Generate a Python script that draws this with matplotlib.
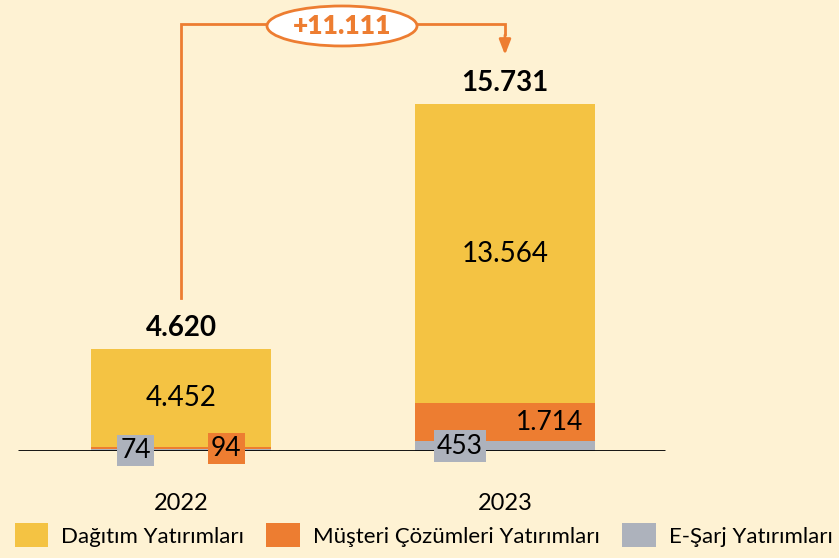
import numpy as np
import matplotlib.pyplot as plt
from matplotlib.patches import Ellipse

plt.rcParams['font.family'] = ['Lato', 'DejaVu Sans']

# data
years = ['2022', '2023']
esarj = [74, 453]
musteri = [94, 1714]
dagitim = [4452, 13564]
series_names = ['Dağıtım Yatırımları', 'Müşteri Çözümleri Yatırımları', 'E-Şarj Yatırımları']

def tr(v):
    return f'{v:,}'.replace(',', '.')

bg = '#FEF2D3'
c_yel = '#F4C343'
c_org = '#ED7D31'
c_gry = '#ADB2BC'

esarj = np.array(esarj)
musteri = np.array(musteri)
dagitim = np.array(dagitim)
totals = esarj + musteri + dagitim
x = np.arange(len(years))
w = 0.556

fig = plt.figure(figsize=(8.39, 5.58), dpi=100, facecolor=bg)
ax = fig.add_axes([0, 107 / 558, 1, 451 / 558])
ax.set_facecolor(bg)
ax.set_xlim(-181 / 324, 658 / 324)
ax.set_ylim(0, 451 * totals[1] / 347)
for s in ax.spines.values():
    s.set_visible(False)
ax.set_yticks([])

b1 = ax.bar(x, esarj, w, color=c_gry, zorder=2)
b2 = ax.bar(x, musteri, w, bottom=esarj, color=c_org, zorder=2)
b3 = ax.bar(x, dagitim, w, bottom=esarj + musteri, color=c_yel, zorder=2)

# baseline
ax.plot([-0.503, 1.494], [0, 0], color='black', lw=2, zorder=3, solid_capstyle='butt')

ax.set_xticks(x)
ax.set_xticklabels(years, fontsize=17)
ax.tick_params(axis='x', length=0, pad=30)

dx = 0.139
# small segment labels
ax.text(x[0] - dx, esarj[0] / 2, tr(esarj[0]), ha='center', va='center', fontsize=19, zorder=4,
        bbox=dict(boxstyle='square,pad=0.12', fc=c_gry, ec='none'))
ax.text(x[0] + dx, esarj[0] + musteri[0] / 2, tr(musteri[0]), ha='center', va='center', fontsize=19, zorder=4,
        bbox=dict(boxstyle='square,pad=0.12', fc=c_org, ec='none'))
ax.text(x[1] - dx, esarj[1] / 2, tr(esarj[1]), ha='center', va='center', fontsize=19, zorder=4,
        bbox=dict(boxstyle='square,pad=0.12', fc=c_gry, ec='none'))
ax.text(x[1] + dx, esarj[1] + musteri[1] / 2, tr(musteri[1]), ha='center', va='center', fontsize=19, zorder=4)

for i in x:
    ax.text(i, esarj[i] + musteri[i] + dagitim[i] / 2, tr(dagitim[i]), ha='center', va='center',
            fontsize=20, zorder=4)
    ax.annotate(tr(totals[i]), (i, totals[i]), xytext=(0, 15), textcoords='offset points',
                ha='center', va='center', fontsize=20, fontweight='bold')

# difference arrow
diff = totals[1] - totals[0]
ytop = ax.get_ylim()[1] * (427 / 451)
ax.plot([x[0], x[0], x[1], x[1]], [totals[0] + 2300, ytop, ytop, ytop - 450],
        color=c_org, lw=2, zorder=3, solid_joinstyle='miter')
ax.annotate('', xy=(x[1], ytop - 1400), xytext=(x[1], ytop - 500),
            arrowprops=dict(arrowstyle='-|>,head_length=0.9,head_width=0.35', color=c_org, lw=2,
                            shrinkA=0, shrinkB=0))
xm = (342 - 181) / 324
ax.add_patch(Ellipse((xm, ytop - 90), 150 / 324, 40 * 45.33, fc='white', ec=c_org, lw=2, zorder=4))
ax.text(xm, ytop - 90, '+' + tr(diff), ha='center', va='center', fontsize=19, fontweight='heavy',
        color=c_org, zorder=5)

fig.legend([b3, b2, b1], series_names, loc='lower center', bbox_to_anchor=(0.505, -0.005), ncol=3,
           frameon=False, fontsize=16, handlelength=1.5, handleheight=1.3, handletextpad=0.6,
           columnspacing=1.0, borderaxespad=0.2)

fig.savefig('out.png', dpi=100, facecolor=bg)
